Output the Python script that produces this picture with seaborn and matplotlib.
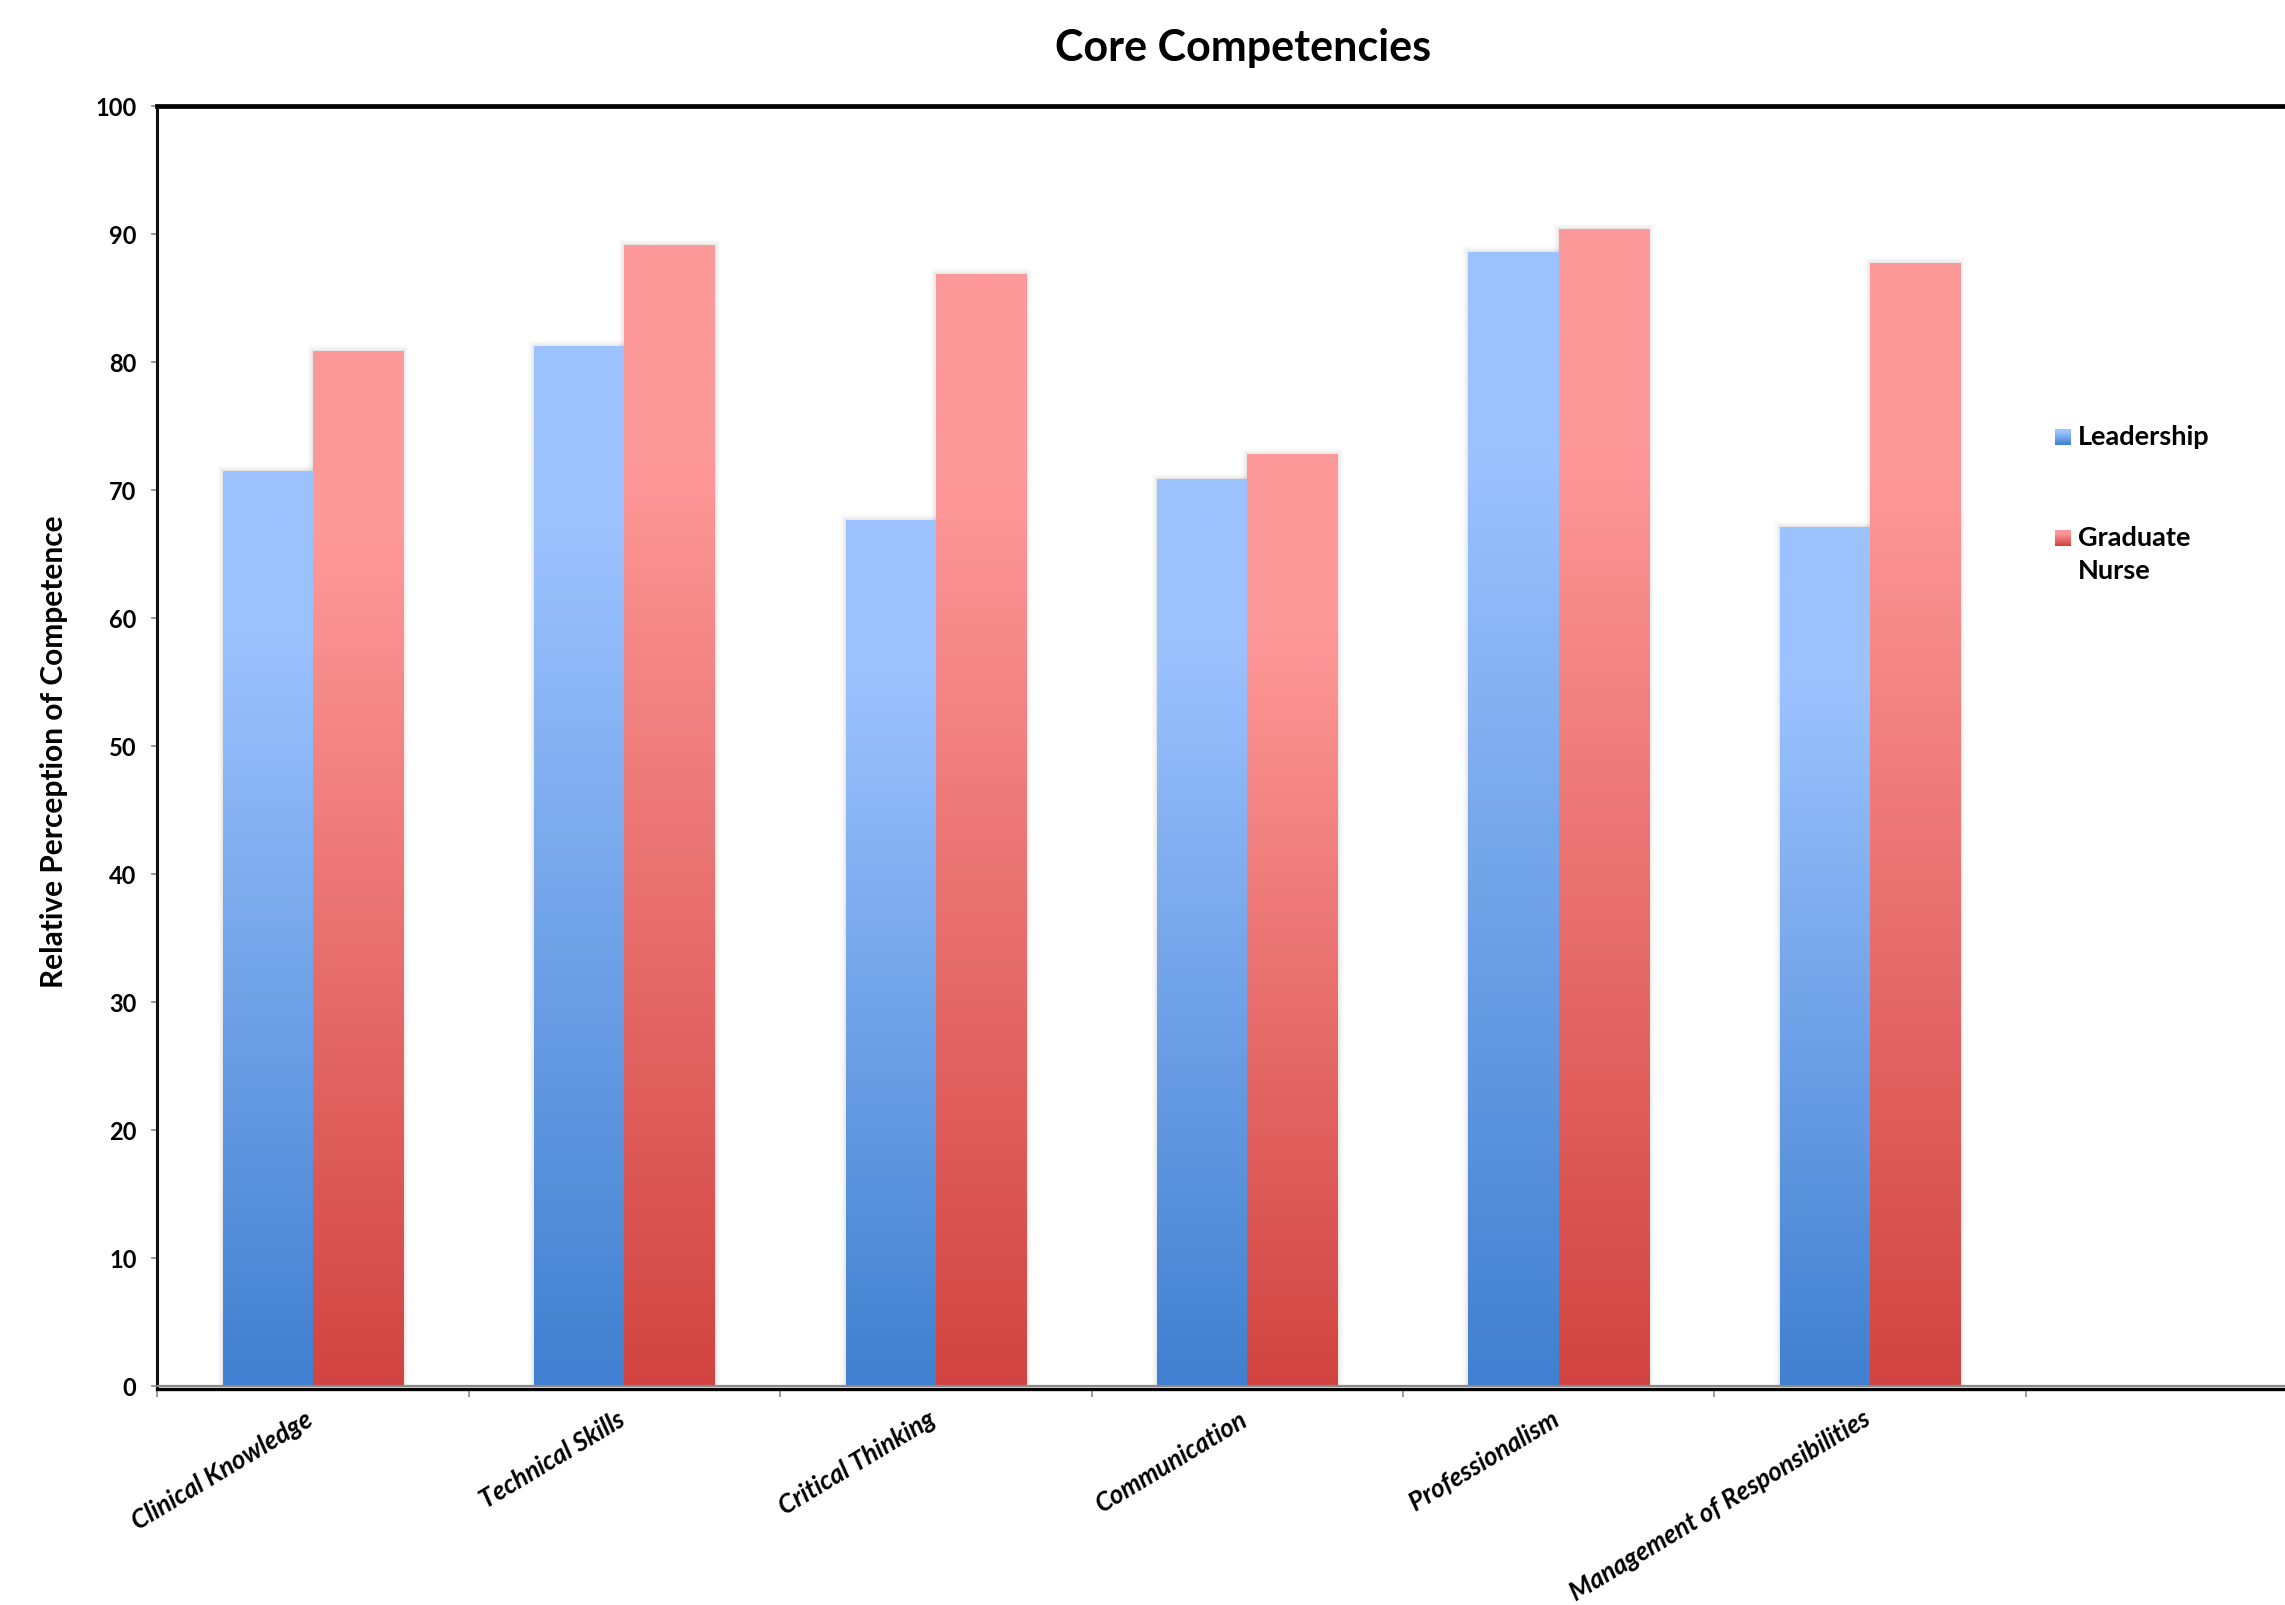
import numpy as np
import pandas as pd
import matplotlib
matplotlib.use("Agg")
import matplotlib.pyplot as plt
import seaborn as sns
from matplotlib import font_manager
from matplotlib.patches import Rectangle
from matplotlib.colors import to_rgb
from matplotlib.transforms import ScaledTranslation

# ---- data -------------------------------------------------------------
competencies = [
    "Clinical Knowledge",
    "Technical Skills",
    "Critical Thinking",
    "Communication",
    "Professionalism",
    "Management of Responsibilities",
]
leadership = [71.5, 81.3, 67.7, 70.9, 88.6, 67.1]
graduate_nurse = [80.9, 89.2, 86.9, 72.8, 90.4, 87.8]
groups = ["Leadership", "Graduate Nurse"]
legend_labels = ["Leadership", "Graduate\nNurse"]
y_ticks = list(range(0, 101, 10))

# bottom / top colours of each series' vertical gradient
gradient_colors = {
    "Leadership": ("#4080D0", "#9CC2FE"),
    "Graduate Nurse": ("#D14441", "#FE9999"),
}

# ---- style ------------------------------------------------------------
sns.set_theme(style="white")
plt.rcParams["font.family"] = ["Lato", "DejaVu Sans"]
plt.rcParams["font.weight"] = "bold"
for key in ["text.color", "axes.labelcolor", "xtick.labelcolor", "ytick.labelcolor"]:
    plt.rcParams[key] = "black"


def family_with_bold_italic(candidates):
    for fam in candidates:
        for f in font_manager.fontManager.ttflist:
            w = f.weight if isinstance(f.weight, int) else 400
            if f.name == fam and f.style in ("italic", "oblique") and w >= 600:
                return fam
    return None


italic_family = family_with_bold_italic(["Lato", "Open Sans", "Noto Sans", "Roboto",
                                         "Liberation Sans", "DejaVu Sans"])
xlabel_kw = dict(fontweight="bold")
if italic_family is not None:
    xlabel_kw.update(fontstyle="italic", family=[italic_family, "DejaVu Sans"])

W, H = 2285, 1605
fig = plt.figure(figsize=(W / 100, H / 100), dpi=100)

# axes frame in pixels (runs off the right edge of the canvas)
ax_left, ax_right, ax_top, ax_bottom = 157.4, 2285.0, 106.4, 1386.0
slot_px = 311.4
ax = fig.add_axes([ax_left / W, 1 - ax_bottom / H,
                   (ax_right - ax_left) / W, (ax_bottom - ax_top) / H])

df = pd.DataFrame({
    "Competency": competencies * 2,
    "Score": leadership + graduate_nurse,
    "Group": [groups[0]] * len(competencies) + [groups[1]] * len(competencies),
})
palette = {g: gradient_colors[g][0] for g in groups}

sns.barplot(data=df, x="Competency", y="Score", hue="Group",
            order=competencies, hue_order=groups, palette=palette,
            width=0.58, saturation=1, errorbar=None, legend=False,
            ax=ax, zorder=2)

x_max = -0.5 + (ax_right - ax_left) / slot_px
px_x = (x_max + 0.5) / (ax_right - ax_left)
px_y = 100.0 / (ax_bottom - ax_top)


def gradient_image(group, n=256):
    bottom_c = np.array(to_rgb(gradient_colors[group][0]))
    top_c = np.array(to_rgb(gradient_colors[group][1]))
    f = np.linspace(0, 1, n)
    t = np.clip(f / 0.82, 0, 1)[:, None]
    return (bottom_c + (top_c - bottom_c) * t)[:, None, :]


# gradient fill + soft shadow for every bar
for container, group in zip(ax.containers, groups):
    img = gradient_image(group)
    for bar in container:
        x0, w, h = bar.get_x(), bar.get_width(), bar.get_height()
        for k, a in [(6, 0.008), (5, 0.010), (4, 0.013), (3, 0.016), (2, 0.019), (1, 0.022)]:
            ax.add_patch(Rectangle((x0 - k * px_x, 0), w + 2 * k * px_x, h + k * px_y,
                                   facecolor="black", edgecolor="none",
                                   alpha=a, zorder=1.5))
        im = ax.imshow(img, extent=(x0, x0 + w, 0, h), origin="lower",
                       aspect="auto", interpolation="bilinear", zorder=3)
        im.set_clip_path(bar)
        bar.set_facecolor("none")
        bar.set_edgecolor("none")

ax.set_xlim(-0.5, x_max)
ax.set_ylim(0, 100)

# ---- axes decoration ---------------------------------------------------
ax.axhline(0, color="#8a8a8a", lw=1.6, zorder=4, clip_on=False)
ax.spines["right"].set_visible(False)
ax.spines["top"].set_color("black")
ax.spines["top"].set_linewidth(3.4)
ax.spines["left"].set_color("#111111")
ax.spines["left"].set_linewidth(2.2)
ax.spines["bottom"].set_color("black")
ax.spines["bottom"].set_linewidth(2.4)
ax.spines["bottom"].set_position(("outward", 2))

ax.set_yticks(y_ticks)
ax.set_yticklabels([str(v) for v in y_ticks], fontsize=17, fontweight="bold",
                   color="black")
ax.tick_params(axis="y", left=True, direction="out", length=4, width=1.2,
               color="#888888", pad=11)

ax.set_xticks(range(len(competencies)))
ax.set_xticklabels(competencies, rotation=31, ha="right", rotation_mode="anchor",
                   fontsize=18.5, color="black", **xlabel_kw)
ax.set_xticks(np.arange(-0.5, len(competencies), 1.0), minor=True)
ax.tick_params(axis="x", which="major", bottom=True, length=0, pad=13)
ax.tick_params(axis="x", which="minor", bottom=True, direction="out",
               length=6, width=1.2, color="#888888")
shift = ScaledTranslation(-6 / 72, 0, fig.dpi_scale_trans)
for lbl in ax.get_xticklabels():
    lbl.set_transform(lbl.get_transform() + shift)

ax.set_xlabel("")
ax.set_ylabel("")
ax.grid(False)

fig.text(54 / W, 1 - 752 / H, "Relative Perception of Competence",
         rotation=90, ha="center", va="center", fontsize=21.5, fontweight="bold",
         color="black")
fig.text(1243 / W, 1 - 48 / H, "Core Competencies",
         ha="center", va="center", fontsize=31, fontweight="bold", color="black")

# ---- legend ------------------------------------------------------------
legend_rows = [(437, 437), (538, 555)]  # (square centre, text centre) in px
sq = 16
for group, label, (sq_y, txt_y) in zip(groups, legend_labels, legend_rows):
    img = gradient_image(group, n=16)[::-1, 0, :]
    n = len(img)
    for i, c in enumerate(img):
        y_top = sq_y - sq / 2 + i * sq / n
        fig.patches.append(Rectangle((2055 / W, 1 - (y_top + sq / n) / H),
                                     sq / W, (sq / n + 0.3) / H,
                                     transform=fig.transFigure,
                                     facecolor=c, edgecolor="none"))
    fig.text(2078 / W, 1 - txt_y / H, label, ha="left", va="center",
             fontsize=19.5, fontweight="bold", linespacing=1.45, color="black")

fig.savefig("out.png", dpi=100)
